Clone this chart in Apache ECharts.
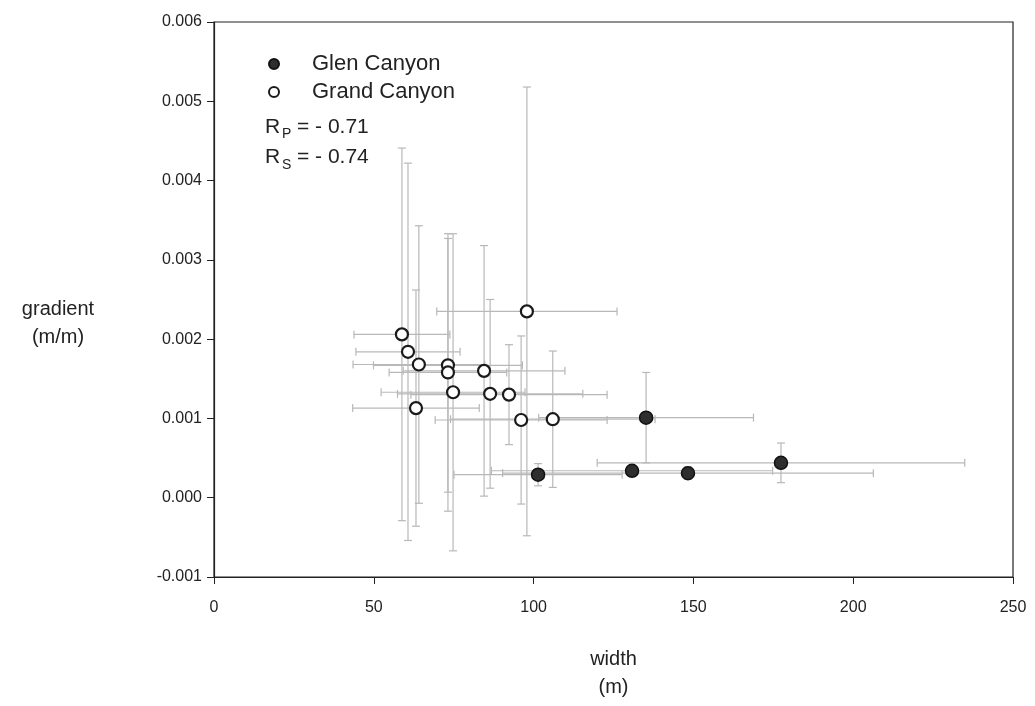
<!DOCTYPE html>
<html>
<head>
<meta charset="utf-8">
<script src="https://cdn.jsdelivr.net/npm/echarts@6/dist/echarts.min.js"></script>
<style>html,body{margin:0;padding:0;background:#fff;overflow:hidden}#c{width:1035px;height:706px}</style>
</head>
<body>
<div id="c"></div>
<script>
// Glen Canyon (filled)
var glenWidth = [101.4, 130.8, 135.2, 148.3, 177.4];
var glenGradient = [0.00029, 0.00034, 0.00101, 0.00031, 0.00044];
var glenWidthErr = [26.3, 44, 33.6, 58, 57.5];
var glenGradientErr = [0.00014, 0.00004, 0.00057, 0.00008, 0.00025];

// Grand Canyon (open)
var grandWidth = [58.8, 60.7, 64.1, 73.2, 73.2, 74.8, 63.2, 84.5, 86.4, 92.3, 96.1, 97.9, 106.0];
var grandGradient = [0.00206, 0.00184, 0.00168, 0.00167, 0.00158, 0.00133, 0.00113, 0.00160, 0.00131, 0.00130, 0.00098, 0.00235, 0.00099];
var grandWidthErr = [15, 16.3, 20.6, 23.3, 18.4, 22.5, 19.8, 25.3, 29, 30.7, 26.9, 28.2, 32];
var grandGradientErr = [0.00235, 0.00238, 0.00175, 0.0016, 0.00175, 0.002, 0.00149, 0.00158, 0.00119, 0.00063, 0.00106, 0.00283, 0.00086];

var xTicks = [0, 50, 100, 150, 200, 250];
var yTicks = [-0.001, 0, 0.001, 0.002, 0.003, 0.004, 0.005, 0.006];

function rows(xs, ys, xe, ye) {
  return xs.map(function (x, i) { return [x, ys[i], xe[i], ye[i]]; });
}
var glenRows = rows(glenWidth, glenGradient, glenWidthErr, glenGradientErr);
var grandRows = rows(grandWidth, grandGradient, grandWidthErr, grandGradientErr);

function errRender(params, api) {
  var x = api.value(0), y = api.value(1), ex = api.value(2), ey = api.value(3);
  var l = api.coord([x - ex, y]), r = api.coord([x + ex, y]);
  var t = api.coord([x, y + ey]), b = api.coord([x, y - ey]);
  var c = 4;
  var st = { stroke: '#b8b8b8', lineWidth: 1.2 };
  function ln(x1, y1, x2, y2) {
    return { type: 'line', shape: { x1: x1, y1: y1, x2: x2, y2: y2 }, style: st };
  }
  return {
    type: 'group',
    children: [
      ln(l[0], l[1], r[0], r[1]),
      ln(l[0], l[1] - c, l[0], l[1] + c),
      ln(r[0], r[1] - c, r[0], r[1] + c),
      ln(t[0], t[1], b[0], b[1]),
      ln(t[0] - c, t[1], t[0] + c, t[1]),
      ln(b[0] - c, b[1], b[0] + c, b[1])
    ]
  };
}

var font = 'Arial, "Liberation Sans", sans-serif';
var annFont = '21px Arial, "Liberation Sans", sans-serif';
var subFont = '14px Arial, "Liberation Sans", sans-serif';
var chart = echarts.init(document.getElementById('c'), null, { renderer: 'canvas' });
chart.setOption({
  backgroundColor: '#fff',
  animation: false,
  grid: { left: 214, width: 799, top: 22, height: 563, show: true, borderColor: '#222', borderWidth: 1.2, backgroundColor: 'transparent' },
  legend: {
    data: ['Glen Canyon', 'Grand Canyon'],
    orient: 'vertical', left: 263, top: 45,
    itemWidth: 10, itemHeight: 10, itemGap: 0,
    textStyle: { fontFamily: font, fontSize: 22, color: '#222', lineHeight: 28, padding: [0, 0, 0, 28] }
  },
  xAxis: {
    type: 'value', min: xTicks[0], max: xTicks[xTicks.length - 1], interval: 50,
    splitLine: { show: false },
    axisLine: { onZero: false, lineStyle: { color: '#222', width: 1.2 } },
    axisTick: { show: true, inside: false, length: 7, lineStyle: { color: '#222' } },
    axisLabel: { fontFamily: font, fontSize: 16, color: '#222', margin: 23 },
    name: 'width\n(m)', nameLocation: 'middle', nameGap: 68,
    nameTextStyle: { fontFamily: font, fontSize: 20, color: '#222', lineHeight: 28 }
  },
  yAxis: {
    type: 'value', min: yTicks[0], max: yTicks[yTicks.length - 1], interval: 0.001,
    splitLine: { show: false },
    axisLine: { onZero: false, lineStyle: { color: '#222', width: 1.2 } },
    axisTick: { show: true, inside: false, length: 7, lineStyle: { color: '#222' } },
    axisLabel: { fontFamily: font, fontSize: 16, color: '#222', margin: 12, formatter: function (v) { return v.toFixed(3); } }
  },
  graphic: [
    { type: 'text', x: 58, y: 323, style: { text: 'gradient\n(m/m)', font: '20px Arial, "Liberation Sans", sans-serif', fill: '#222', align: 'center', verticalAlign: 'middle', lineHeight: 28 } },
    { type: 'text', left: 265, top: 117, style: { text: 'R', font: annFont, fill: '#222' } },
    { type: 'text', left: 282, top: 127, style: { text: 'P', font: subFont, fill: '#222' } },
    { type: 'text', left: 297, top: 117, style: { text: '= - 0.71', font: annFont, fill: '#222' } },
    { type: 'text', left: 265, top: 147, style: { text: 'R', font: annFont, fill: '#222' } },
    { type: 'text', left: 282, top: 158, style: { text: 'S', font: subFont, fill: '#222' } },
    { type: 'text', left: 297, top: 147, style: { text: '= - 0.74', font: annFont, fill: '#222' } }
  ],
  series: [
    { name: 'glenErr', type: 'custom', renderItem: errRender, data: glenRows, z: 1, silent: true },
    { name: 'grandErr', type: 'custom', renderItem: errRender, data: grandRows, z: 1, silent: true },
    {
      name: 'Glen Canyon', type: 'scatter', data: glenRows.map(function (r) { return [r[0], r[1]]; }),
      symbol: 'circle', symbolSize: 13, z: 3,
      itemStyle: { color: '#2e2e2e', borderColor: '#111', borderWidth: 1.5, opacity: 1 }
    },
    {
      name: 'Grand Canyon', type: 'scatter', data: grandRows.map(function (r) { return [r[0], r[1]]; }),
      symbol: 'circle', symbolSize: 12, z: 3,
      itemStyle: { color: '#fff', borderColor: '#1a1a1a', borderWidth: 2.2, opacity: 1 }
    }
  ]
});
</script>
</body>
</html>
